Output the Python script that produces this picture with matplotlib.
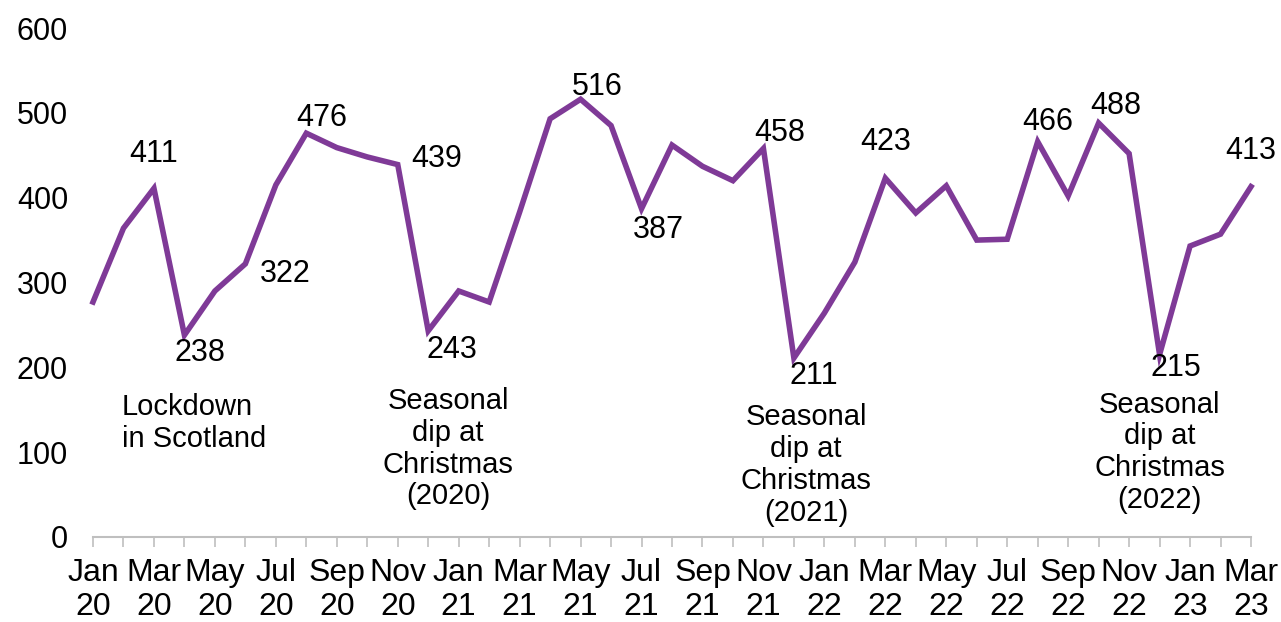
import matplotlib
matplotlib.use("Agg")
import matplotlib.pyplot as plt

plt.rcParams["font.family"] = ["Liberation Sans", "DejaVu Sans"]

# monthly counts, Jan 2020 to Mar 2023
months = ["Jan\n20", "Feb\n20", "Mar\n20", "Apr\n20", "May\n20", "Jun\n20",
          "Jul\n20", "Aug\n20", "Sep\n20", "Oct\n20", "Nov\n20", "Dec\n20",
          "Jan\n21", "Feb\n21", "Mar\n21", "Apr\n21", "May\n21", "Jun\n21",
          "Jul\n21", "Aug\n21", "Sep\n21", "Oct\n21", "Nov\n21", "Dec\n21",
          "Jan\n22", "Feb\n22", "Mar\n22", "Apr\n22", "May\n22", "Jun\n22",
          "Jul\n22", "Aug\n22", "Sep\n22", "Oct\n22", "Nov\n22", "Dec\n22",
          "Jan\n23", "Feb\n23", "Mar\n23"]
values = [277, 364, 411, 238, 290, 322, 415, 476, 459, 448, 439, 243,
          290, 277, 383, 493, 516, 485, 387, 462, 437, 420, 458, 211,
          264, 324, 423, 382, 414, 350, 351, 466, 402, 488, 452, 215,
          343, 357, 413]

# which points get a value label, and where the label sits (offset in points)
labelled = [2, 3, 5, 7, 10, 11, 16, 18, 22, 23, 26, 31, 33, 35, 38]
label_offsets = {2: (0, 25), 3: (11, -13), 5: (29, -7), 7: (11, 11),
                 10: (28, 4), 11: (17, -14), 16: (12, 9), 18: (12, -15),
                 22: (12, 11), 23: (14, -13), 26: (0, 26), 31: (7, 14),
                 33: (12, 12), 35: (12, -10), 38: (0, 26)}

notes = ["Lockdown\nin Scotland",
         "Seasonal\ndip at\nChristmas\n(2020)",
         "Seasonal\ndip at\nChristmas\n(2021)",
         "Seasonal\ndip at\nChristmas\n(2022)"]
note_pos = [(0.95, 134, "left"), (11.65, 104, "center"),
            (23.4, 85, "center"), (35.0, 100, "center")]

purple = "#7f3a97"
grey = "#bfbfbf"

fig = plt.figure(figsize=(12.81, 6.22), dpi=100)
ax = fig.add_axes([93 / 1281, 85 / 622, (1251 - 93) / 1281, (537 - 28) / 622])

x = list(range(len(values)))
ax.plot(x, values, color=purple, linewidth=4, solid_joinstyle="miter",
        clip_on=False)

for i in labelled:
    dx, dy = label_offsets[i]
    ax.annotate(str(values[i]), (x[i], values[i]), xytext=(dx, dy),
                textcoords="offset points", ha="center", va="center",
                fontsize=22, color="black")

for text, (nx, ny, align) in zip(notes, note_pos):
    ax.text(nx, ny, text, ha=align, va="center", multialignment=align,
            fontsize=21, linespacing=1.17, color="black")

ax.set_xlim(0, len(values) - 1)
ax.set_ylim(0, 600)
ax.set_yticks(range(0, 601, 100))
ax.set_xticks(x)
ax.set_xticklabels([m if i % 2 == 0 else "" for i, m in enumerate(months)],
                   fontsize=23, linespacing=1.2)
ax.tick_params(axis="y", length=0, pad=18, labelsize=22)
ax.tick_params(axis="x", length=7, width=1.2, color=grey, pad=8)

for side in ["top", "right", "left"]:
    ax.spines[side].set_visible(False)
ax.spines["bottom"].set_color(grey)
ax.spines["bottom"].set_linewidth(1.5)

fig.savefig("out.png", dpi=100)
